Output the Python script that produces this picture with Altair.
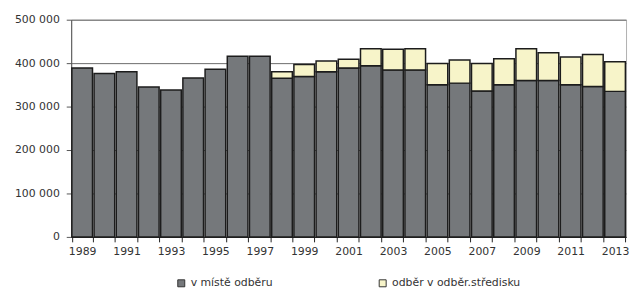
import altair as alt
import pandas as pd

years = list(range(1989, 2014))
v_miste = [389, 376, 380, 345, 338, 366, 386, 416, 416, 365, 369, 380, 389,
           394, 384, 384, 350, 354, 336, 350, 360, 360, 350, 346, 335]
v_stredisku = [0, 0, 0, 0, 0, 0, 0, 0, 0, 15, 28, 25, 20,
               39, 48, 49, 49, 53, 63, 60, 73, 64, 64, 74, 68]
series = ["v místě odběru", "odběr v odběr.středisku"]
y_ticks = [0, 100000, 200000, 300000, 400000, 500000]

rows = []
for y, a, b in zip(years, v_miste, v_stredisku):
    rows.append({"rok": str(y), "serie": series[0], "hodnota": a * 1000, "poradi": 0})
    if b > 0:
        rows.append({"rok": str(y), "serie": series[1], "hodnota": b * 1000, "poradi": 1})
df = pd.DataFrame(rows)

FONT = "DejaVu Sans"

chart = alt.Chart(df).mark_bar(stroke="#1c1c1c", strokeWidth=1.5).encode(
    x=alt.X("rok:O", sort=[str(y) for y in years],
            scale=alt.Scale(paddingInner=0.07, paddingOuter=0.03),
            axis=alt.Axis(title=None, labelAngle=0, tickBand="extent",
                          labelExpr="toNumber(datum.value) % 2 == 1 ? datum.value : ''",
                          labelFont=FONT, labelFontSize=11, labelColor="#333333",
                          domainColor="#222222", tickColor="#222222", tickSize=5,
                          labelPadding=4, grid=False)),
    y=alt.Y("hodnota:Q", stack="zero", scale=alt.Scale(domain=[0, 500000]),
            axis=alt.Axis(title=None, values=y_ticks,
                          labelExpr="datum.value == 0 ? '0' : (datum.value / 1000) + ' 000'",
                          labelFont=FONT, labelFontSize=11, labelColor="#333333",
                          domainColor="#555555", tickColor="#555555", tickSize=5,
                          labelPadding=7, grid=True, gridColor="#6a6a6a", gridWidth=1)),
    color=alt.Color("serie:N", scale=alt.Scale(domain=series, range=["#75787b", "#f7f4c9"]),
                    legend=alt.Legend(title=None, orient="none", legendX=106, legendY=261,
                                      direction="horizontal", symbolType="square",
                                      symbolSize=50, symbolStrokeColor="#333333",
                                      symbolStrokeWidth=1, labelFont=FONT, labelFontSize=11,
                                      labelColor="#333333", columnPadding=104)),
    order=alt.Order("poradi:Q"),
).properties(
    width=562, height=220,
    autosize=alt.AutoSizeParams(type="none"),
    padding={"left": 64, "top": 10, "right": 4, "bottom": 58},
).configure_view(stroke="#b0b0b0", strokeWidth=1)

chart.save("out.html", embed_options={"renderer": "svg", "actions": False})
